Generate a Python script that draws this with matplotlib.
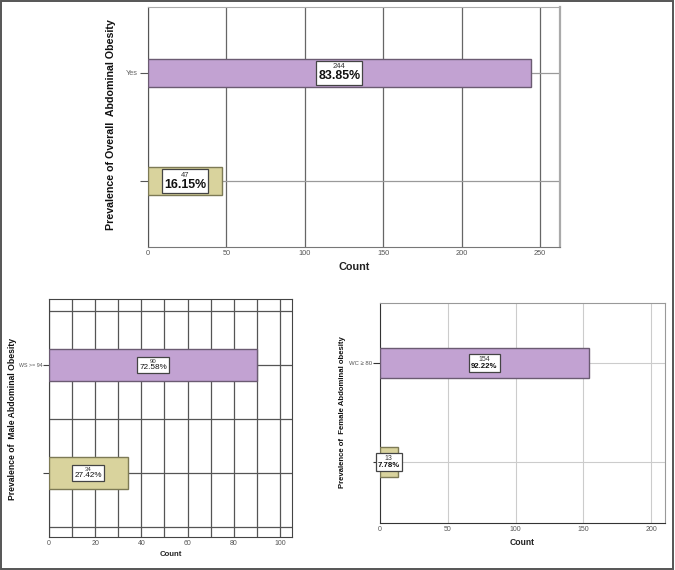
import matplotlib
matplotlib.use("Agg")
import matplotlib.pyplot as plt
import numpy as np
from matplotlib.offsetbox import TextArea, VPacker, AnnotationBbox
from matplotlib.patches import Rectangle
from matplotlib.ticker import MultipleLocator

plt.rcParams['font.family'] = ['Liberation Sans', 'DejaVu Sans']
SANS = ['Liberation Sans', 'DejaVu Sans']

# ---------------- data ----------------
overall_labels = ["", "Yes"]
overall_counts = [47, 244]
overall_pcts = ["16.15%", "83.85%"]

male_labels = ["", "WS >= 94"]
male_counts = [34, 90]
male_pcts = ["27.42%", "72.58%"]

female_labels = ["", "WC \u2265 80"]
female_counts = [13, 154]
female_pcts = ["7.78%", "92.22%"]

PURPLE = "#C2A2D2"
TAN = "#D9D39D"
bar_colors = [TAN, PURPLE]
edge_colors = ["#7d7a55", "#6b5b72"]

fig = plt.figure(figsize=(6.75, 5.7), dpi=100)
fig.patches.append(Rectangle((0.0015, 0.002), 0.9955, 0.9955, transform=fig.transFigure,
                             fill=False, edgecolor="#555555", lw=1.4, zorder=10))


def draw(ax, labels, counts, pcts, height, xmax, ylim, xmajor,
         small_fs, big_fs, big_weight):
    pos = np.arange(len(counts))
    ax.barh(pos, counts, height=height, color=bar_colors, edgecolor=edge_colors,
            linewidth=1.0, zorder=3)
    ax.set_xlim(0, xmax)
    ax.set_ylim(*ylim)
    ax.set_yticks(pos)
    ax.set_yticklabels(labels)
    ax.xaxis.set_major_locator(MultipleLocator(xmajor))
    for c, p, y in zip(counts, pcts, pos):
        t1 = TextArea(str(c), textprops=dict(fontsize=small_fs, color="#333333"))
        t2 = TextArea(p, textprops=dict(fontsize=big_fs, fontweight=big_weight,
                                        color="#111111", family=SANS))
        vp = VPacker(children=[t1, t2], align="center", pad=0, sep=0)
        ab = AnnotationBbox(vp, (c / 2.0, y), frameon=True, pad=0.15,
                            box_alignment=(0.5, 0.5),
                            bboxprops=dict(boxstyle="square,pad=0.15",
                                           facecolor="white", edgecolor="#444444",
                                           lw=0.9),
                            zorder=5, annotation_clip=False)
        ax.add_artist(ab)
    ax.set_axisbelow(True)
    return pos


# ---------------- top chart ----------------
ax1 = fig.add_axes([148 / 675, 1 - 247 / 570, 412 / 675, 240 / 570])
pos = draw(ax1, overall_labels, overall_counts, overall_pcts, 0.26, 262.7,
           (-0.611, 1.611), 50, 5.5, 8.9, "bold")
ax1.grid(axis="x", color="#666666", lw=0.9, zorder=0)
for y in pos:
    ax1.axhline(y, color="#9a9a9a", lw=0.9, zorder=1)
ax1.spines["left"].set_color("#555555")
ax1.spines["bottom"].set_color("#777777")
ax1.spines["top"].set_color("#aaaaaa")
ax1.spines["right"].set_color("#aaaaaa")
ax1.spines["right"].set_linewidth(1.6)
ax1.tick_params(axis="x", length=0, labelsize=5.3, labelcolor="#555555", pad=2)
ax1.tick_params(axis="y", length=6, width=0.8, color="#555555", labelsize=5.3,
                labelcolor="#666666", pad=1)
ax1.set_xlabel("Count", fontsize=7.8, fontweight="bold", labelpad=4, color="#222222")
fig.text(111 / 675, 1 - 125 / 570, "Prevalence of Overall  Abdominal Obesity",
         rotation=90, ha="center", va="center", fontsize=7.7, fontweight="bold",
         color="#111111")

# ---------------- male chart ----------------
ax2 = fig.add_axes([49 / 675, 1 - 537 / 570, 243 / 675, 238 / 570])
pos = draw(ax2, male_labels, male_counts, male_pcts, 0.296, 105.2,
           (-0.593, 1.611), 20, 4.3, 5.9, "normal")
ax2.xaxis.set_minor_locator(MultipleLocator(10))
ax2.grid(axis="x", which="both", color="#555555", lw=0.9, zorder=0)
for y in [-0.5, 0, 0.5, 1, 1.5]:
    ax2.axhline(y, color="#555555", lw=0.9, zorder=1)
for s in ax2.spines.values():
    s.set_color("#444444")
ax2.tick_params(axis="x", which="both", length=0, labelsize=5.0, labelcolor="#555555", pad=2)
ax2.tick_params(axis="y", length=4, width=0.8, color="#444444", labelsize=3.8,
                labelcolor="#555555", pad=0.5)
ax2.set_xlabel("Count", fontsize=5.6, fontweight="bold", labelpad=3, color="#222222")
fig.text(13 / 675, 1 - 419 / 570, "Prevalence of  Male Abdominal Obesity",
         rotation=90, ha="center", va="center", fontsize=6.2, fontweight="bold",
         color="#111111")

# ---------------- female chart ----------------
ax3 = fig.add_axes([380 / 675, 1 - 523 / 570, 285 / 675, 220 / 570])
pos = draw(ax3, female_labels, female_counts, female_pcts, 0.30, 210.3,
           (-0.616, 1.606), 50, 5.0, 5.6, "bold")
ax3.grid(axis="x", color="#cccccc", lw=0.8, zorder=0)
for y in pos:
    ax3.axhline(y, color="#cccccc", lw=0.8, zorder=1)
ax3.spines["left"].set_color("#333333")
ax3.spines["bottom"].set_color("#333333")
ax3.spines["top"].set_color("#999999")
ax3.spines["right"].set_color("#999999")
ax3.tick_params(axis="x", length=0, labelsize=5.0, labelcolor="#555555", pad=2)
ax3.tick_params(axis="y", length=5, width=0.8, color="#333333", labelsize=4.3,
                labelcolor="#555555", pad=1)
ax3.set_xlabel("Count", fontsize=6.2, fontweight="bold", labelpad=4, color="#222222")
fig.text(342 / 675, 1 - 412.5 / 570, "Prevalence of  Female Abdominal obesity",
         rotation=90, ha="center", va="center", fontsize=5.6, fontweight="bold",
         color="#111111")

fig.savefig("out.png", dpi=100)
